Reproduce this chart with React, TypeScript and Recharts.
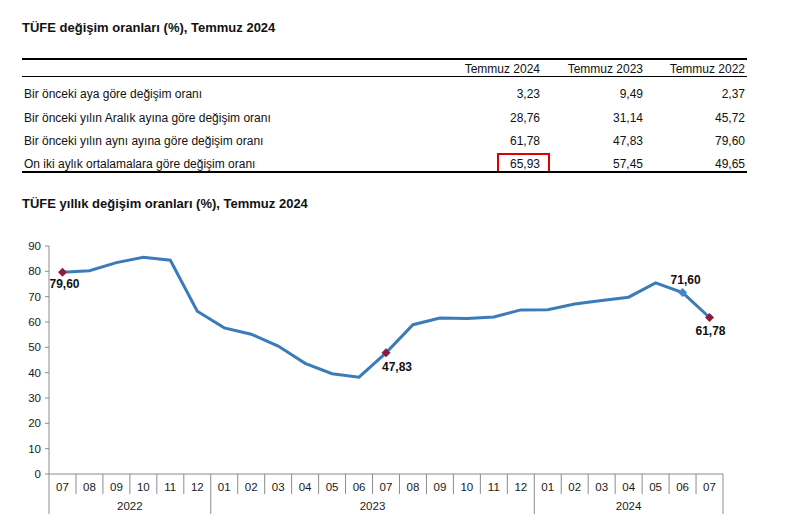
import { LineChart, Line, XAxis, YAxis } from 'recharts';

// table
const rowLabels = [
  'Bir önceki aya göre değişim oranı',
  'Bir önceki yılın Aralık ayına göre değişim oranı',
  'Bir önceki yılın aynı ayına göre değişim oranı',
  'On iki aylık ortalamalara göre değişim oranı',
];
const colLabels = ['Temmuz 2024', 'Temmuz 2023', 'Temmuz 2022'];
const jul2024 = [3.23, 28.76, 61.78, 65.93];
const jul2023 = [9.49, 31.14, 47.83, 57.45];
const jul2022 = [2.37, 45.72, 79.6, 49.65];

// chart
const months = [
  '07', '08', '09', '10', '11', '12',
  '01', '02', '03', '04', '05', '06', '07', '08', '09', '10', '11', '12',
  '01', '02', '03', '04', '05', '06', '07',
];
const years = ['2022', '2023', '2024'];
const annualRate = [
  79.6, 80.21, 83.45, 85.51, 84.39, 64.27,
  57.68, 55.18, 50.51, 43.68, 39.59, 38.21, 47.83, 58.94, 61.53, 61.36, 61.98, 64.77,
  64.86, 67.07, 68.5, 69.8, 75.45, 71.6, 61.78,
];
const yTicks = [0, 10, 20, 30, 40, 50, 60, 70, 80, 90];
// points with a marker and value label
const markedIdx = [0, 12, 23, 24];

const FONT = 'Arial, "Liberation Sans", sans-serif';
const CW = 791;
const CH = 294;
const M = { top: 16, right: 68, bottom: 0, left: 0 };
const Y_W = 49;
const BAND = (CW - M.left - M.right - Y_W) / months.length;

const fmt = (v: number) => v.toFixed(2).replace('.', ',');

const data = months.map((m, i) => ({ i, m, v: annualRate[i] }));

// label offsets relative to the point (style only)
const labelOffset: Record<number, [number, number]> = {
  0: [2, 16],
  12: [11, 18],
  23: [3, -9],
  24: [1, 18],
};

function MonthTick(props: any) {
  const { x, y, index } = props;
  const m = months[index];
  const next = months[index + 1];
  const rightLong = next === undefined || next === '01';
  const half = BAND / 2;
  let yearLabel: { text: string; dx: number } | null = null;
  if (index === 2) yearLabel = { text: years[0], dx: half };
  if (index === 11) yearLabel = { text: years[1], dx: half };
  if (index === 21) yearLabel = { text: years[2], dx: 0 };
  return (
    <g>
      {index === 0 && <line x1={x - half} x2={x - half} y1={y} y2={y + 40} stroke="#8c8c8c" />}
      <line x1={x + half} x2={x + half} y1={y} y2={y + (rightLong ? 40 : 20)} stroke="#8c8c8c" />
      <text x={x} y={y + 17} textAnchor="middle" fontSize={11.5} fontFamily={FONT} fill="#1a1a1a">
        {m}
      </text>
      {yearLabel && (
        <text
          x={x + yearLabel.dx}
          y={y + 36}
          textAnchor="middle"
          fontSize={11.5}
          fontFamily={FONT}
          fill="#1a1a1a"
        >
          {yearLabel.text}
        </text>
      )}
    </g>
  );
}

function Diamond(props: any) {
  const { cx, cy, index } = props;
  if (!markedIdx.includes(index) || cx == null) return <g key={`d${index}`} />;
  const r = 4.5;
  const color = index === 23 ? '#4a86c6' : '#8a1e3e';
  return (
    <polygon
      key={`d${index}`}
      points={`${cx},${cy - r} ${cx + r},${cy} ${cx},${cy + r} ${cx - r},${cy}`}
      fill={color}
    />
  );
}

function PointLabel(props: any) {
  const { x, y, index, value } = props;
  if (!markedIdx.includes(index)) return null;
  const [dx, dy] = labelOffset[index] ?? [0, -10];
  return (
    <text
      x={x + dx}
      y={y + dy}
      textAnchor="middle"
      fontSize={12}
      fontWeight="bold"
      fontFamily={FONT}
      fill="#111"
    >
      {fmt(value)}
    </text>
  );
}

const rowTops = [87, 111, 134, 157];
const colRight = [540, 643, 745];

export default function App() {
  const cols = [jul2024, jul2023, jul2022];
  return (
    <div
      style={{
        position: 'absolute',
        left: 0,
        top: 0,
        width: 791,
        height: 524,
        background: '#fff',
        fontFamily: FONT,
        color: '#111',
      }}
    >
      <div style={{ position: 'absolute', left: 22, top: 20, fontSize: 13, fontWeight: 'bold', whiteSpace: 'nowrap' }}>
        TÜFE değişim oranları (%), Temmuz 2024
      </div>

      <div style={{ position: 'absolute', left: 22, top: 58, width: 725, height: 2, background: '#000' }} />
      {colLabels.map((c, j) => (
        <div
          key={c}
          style={{
            position: 'absolute',
            right: 791 - colRight[j],
            top: 62,
            fontSize: 12,
            whiteSpace: 'nowrap',
          }}
        >
          {c}
        </div>
      ))}
      <div style={{ position: 'absolute', left: 22, top: 76, width: 725, height: 1, background: '#000' }} />

      {rowLabels.map((r, i) => (
        <div key={r}>
          <div style={{ position: 'absolute', left: 24, top: rowTops[i], fontSize: 12, whiteSpace: 'nowrap' }}>{r}</div>
          {cols.map((col, j) => (
            <div
              key={j}
              style={{
                position: 'absolute',
                right: 791 - colRight[j],
                top: rowTops[i],
                fontSize: 12,
                whiteSpace: 'nowrap',
              }}
            >
              {fmt(col[i])}
            </div>
          ))}
        </div>
      ))}
      <div
        style={{
          position: 'absolute',
          left: 497,
          top: 153,
          width: 49,
          height: 16,
          border: '2px solid #e00000',
        }}
      />
      <div style={{ position: 'absolute', left: 22, top: 171, width: 725, height: 2, background: '#000' }} />

      <div style={{ position: 'absolute', left: 22, top: 196, fontSize: 13, fontWeight: 'bold', whiteSpace: 'nowrap' }}>
        TÜFE yıllık değişim oranları (%), Temmuz 2024
      </div>

      <div style={{ position: 'absolute', left: 0, top: 230 }}>
        <LineChart width={CW} height={CH} data={data} margin={M}>
          <XAxis
            dataKey="i"
            type="category"
            interval={0}
            height={50}
            padding={{ left: BAND / 2, right: BAND / 2 }}
            axisLine={{ stroke: '#8c8c8c' }}
            tickLine={false}
            tickSize={0}
            tickMargin={0}
            tick={<MonthTick />}
          />
          <YAxis
            width={Y_W}
            domain={[0, 90]}
            ticks={yTicks}
            interval={0}
            axisLine={{ stroke: '#8c8c8c' }}
            tickLine={{ stroke: '#8c8c8c' }}
            tickSize={4}
            tickMargin={4}
            tick={{ fontSize: 11.5, fill: '#1a1a1a', fontFamily: FONT }}
          />
          <Line
            dataKey="v"
            type="linear"
            stroke="#3a7cb9"
            strokeWidth={3}
            dot={<Diamond />}
            activeDot={false}
            label={<PointLabel />}
            isAnimationActive={false}
          />
        </LineChart>
      </div>
    </div>
  );
}
